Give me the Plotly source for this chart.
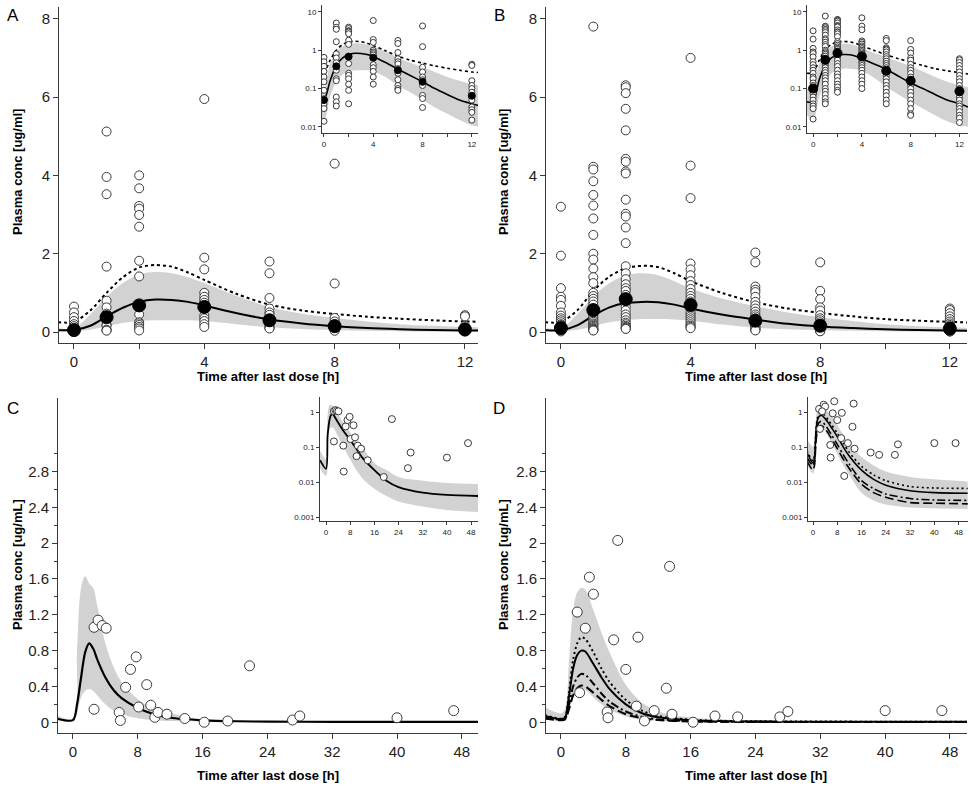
import plotly.graph_objects as go

W, H = 972, 787

# ---------------- panels A and B (0-12 h) ----------------
t_ab = [-0.5, 0, 0.5, 1, 1.5, 2, 2.5, 3, 3.5, 4, 5, 6, 7, 8, 9, 10, 11, 12, 12.7]

a_median = [0.05, 0.05, 0.16, 0.4, 0.62, 0.77, 0.83, 0.82, 0.77, 0.68, 0.48, 0.32, 0.22, 0.15, 0.1, 0.07, 0.05, 0.04, 0.035]
a_upper = [0.25, 0.26, 0.55, 1.0, 1.4, 1.65, 1.71, 1.67, 1.52, 1.33, 0.97, 0.7, 0.55, 0.46, 0.39, 0.34, 0.3, 0.27, 0.26]
a_pi_hi = [0.1, 0.1, 0.45, 0.9, 1.25, 1.47, 1.53, 1.5, 1.4, 1.25, 0.92, 0.64, 0.47, 0.36, 0.27, 0.2, 0.16, 0.13, 0.12]
a_pi_lo = [0.02, 0.015, 0.06, 0.15, 0.23, 0.28, 0.3, 0.3, 0.3, 0.28, 0.2, 0.12, 0.08, 0.05, 0.032, 0.022, 0.015, 0.011, 0.01]

b_median = [0.045, 0.045, 0.17, 0.42, 0.63, 0.74, 0.77, 0.76, 0.7, 0.6, 0.44, 0.32, 0.21, 0.14, 0.1, 0.07, 0.05, 0.04, 0.033]
b_upper = [0.25, 0.26, 0.55, 1.05, 1.42, 1.63, 1.69, 1.66, 1.5, 1.3, 0.99, 0.76, 0.6, 0.49, 0.4, 0.33, 0.29, 0.26, 0.24]
b_pi_hi = [0.1, 0.1, 0.45, 0.9, 1.25, 1.45, 1.5, 1.45, 1.3, 1.12, 0.85, 0.66, 0.5, 0.38, 0.28, 0.2, 0.15, 0.12, 0.11]
b_pi_lo = [0.02, 0.015, 0.06, 0.15, 0.25, 0.3, 0.33, 0.33, 0.32, 0.29, 0.19, 0.11, 0.07, 0.045, 0.03, 0.02, 0.014, 0.011, 0.01]

obs_times_ab = [0, 1, 2, 4, 6, 8, 12]

a_obs = [
    [0.65, 0.5, 0.38, 0.28, 0.2, 0.15, 0.09, 0.054, 0.04, 0.03, 0.014],
    [5.12, 3.96, 3.52, 1.67, 0.8, 0.63, 0.47, 0.3, 0.18, 0.16, 0.06, 0.045, 0.035],
    [4.0, 3.67, 3.22, 3.15, 2.99, 2.69, 1.82, 1.42, 0.45, 0.25, 0.22, 0.18, 0.13, 0.09, 0.04],
    [5.95, 1.9, 1.6, 1.0, 0.9, 0.82, 0.75, 0.42, 0.35, 0.28, 0.2, 0.13],
    [1.8, 1.5, 0.87, 0.6, 0.5, 0.44, 0.33, 0.25, 0.17, 0.12, 0.1, 0.09],
    [4.3, 1.24, 0.36, 0.27, 0.2, 0.17, 0.12, 0.066, 0.055, 0.032],
    [0.43, 0.4, 0.16, 0.12, 0.1, 0.08, 0.06, 0.05, 0.033, 0.028, 0.024, 0.015],
]
a_obs_median = [0.05, 0.38, 0.68, 0.64, 0.3, 0.15, 0.065]

b_obs = [
    [3.2, 1.95, 1.12, 0.9, 0.82, 0.67, 0.5, 0.42, 0.35, 0.3, 0.25, 0.2, 0.18, 0.14, 0.12,
     0.1, 0.08, 0.074, 0.06, 0.05, 0.04, 0.035, 0.03, 0.016],
    [7.8, 4.22, 4.15, 3.85, 3.5, 3.23, 2.9, 2.48, 2.0, 1.85, 1.62, 1.4, 1.25, 1.0, 0.92,
     0.85, 0.78, 0.7, 0.6, 0.55, 0.5, 0.45, 0.4, 0.35, 0.3, 0.26, 0.22, 0.19, 0.16, 0.13,
     0.1, 0.085, 0.07, 0.055, 0.045, 0.04],
    [6.3, 6.25, 6.1, 5.7, 5.15, 4.42, 4.35, 4.1, 4.05, 3.38, 3.02, 2.95, 2.67, 2.27, 1.68,
     1.5, 1.35, 1.22, 1.12, 1.05, 0.95, 0.88, 0.82, 0.75, 0.65, 0.55, 0.45, 0.38, 0.3,
     0.24, 0.2, 0.16, 0.13, 0.11, 0.09, 0.08],
    [7.0, 4.25, 3.42, 1.75, 1.6, 1.45, 1.3, 1.2, 1.1, 1.0, 0.92, 0.85, 0.78, 0.7, 0.65,
     0.58, 0.5, 0.45, 0.4, 0.35, 0.3, 0.25, 0.2, 0.16, 0.13, 0.1],
    [2.03, 1.78, 1.16, 1.08, 1.02, 0.9, 0.77, 0.68, 0.6, 0.52, 0.45, 0.4, 0.35, 0.3, 0.25,
     0.22, 0.18, 0.15, 0.12, 0.1, 0.08, 0.065, 0.05, 0.04],
    [1.78, 1.05, 0.84, 0.63, 0.55, 0.43, 0.35, 0.3, 0.25, 0.2, 0.17, 0.14, 0.12, 0.1, 0.08,
     0.065, 0.05, 0.04, 0.03, 0.022, 0.02],
    [0.6, 0.56, 0.48, 0.4, 0.33, 0.27, 0.22, 0.18, 0.15, 0.12, 0.1, 0.085, 0.07, 0.06, 0.05,
     0.04, 0.035, 0.03, 0.025, 0.02, 0.017, 0.013],
]
b_obs_median = [0.1, 0.56, 0.84, 0.69, 0.29, 0.16, 0.085]

# ---------------- panels C and D (0-48 h) ----------------
t_cd = [-2, 0, 0.5, 1, 1.5, 2, 2.5, 3, 4, 5, 6, 8, 10, 12, 16, 20, 24, 32, 40, 51]

c_median = [0.042, 0.024, 0.2, 0.5, 0.78, 0.88, 0.82, 0.7, 0.5, 0.36, 0.27, 0.16, 0.09, 0.05, 0.022, 0.011, 0.0072, 0.005, 0.0043, 0.004]
c_pi_hi = [0.08, 0.045, 0.8, 1.5, 1.63, 1.55, 1.5, 1.3, 0.88, 0.62, 0.45, 0.26, 0.15, 0.1, 0.035, 0.022, 0.014, 0.011, 0.0095, 0.0088]
c_pi_lo = [0.025, 0.015, 0.1, 0.28, 0.35, 0.37, 0.35, 0.3, 0.2, 0.13, 0.09, 0.045, 0.022, 0.013, 0.0065, 0.004, 0.0028, 0.002, 0.0016, 0.0014]

# the ~16 h samples are below the insets' 0.001 floor, so they only show in the linear panels
c_obs_t = [2.6, 3.1, 3.6, 4.1, 2.6, 5.7, 5.85, 6.5, 7.1, 7.8, 8.1, 9.1, 9.6, 10.1, 10.5, 11.6,
           13.8, 16.2, 19.1, 21.8, 27.1, 28.0, 40.0, 47.0]
c_obs_v = [1.06, 1.14, 1.08, 1.05, 0.145, 0.11, 0.02, 0.39, 0.59, 0.73, 0.17, 0.42, 0.19, 0.055,
           0.11, 0.09, 0.042, 0.0003, 0.014, 0.63, 0.025, 0.07, 0.05, 0.13]

d_median = [0.07, 0.035, 0.05, 0.3, 0.6, 0.75, 0.8, 0.79, 0.65, 0.5, 0.37, 0.2, 0.1, 0.055, 0.022, 0.012, 0.0082, 0.0057, 0.005, 0.0048]
d_high = [0.08, 0.04, 0.06, 0.35, 0.7, 0.88, 0.95, 0.93, 0.78, 0.6, 0.45, 0.25, 0.13, 0.07, 0.028, 0.016, 0.011, 0.0075, 0.0068, 0.0066]
d_mid = [0.05, 0.03, 0.04, 0.2, 0.4, 0.5, 0.54, 0.53, 0.43, 0.32, 0.23, 0.12, 0.06, 0.032, 0.011, 0.0065, 0.0046, 0.0034, 0.0031, 0.003]
d_low = [0.04, 0.022, 0.03, 0.15, 0.3, 0.38, 0.41, 0.4, 0.33, 0.25, 0.18, 0.09, 0.045, 0.024, 0.0087, 0.005, 0.0037, 0.0026, 0.0025, 0.0024]
d_pi_hi = [0.17, 0.1, 0.15, 0.7, 1.25, 1.45, 1.5, 1.48, 1.25, 1.0, 0.78, 0.42, 0.22, 0.12, 0.052, 0.03, 0.02, 0.014, 0.012, 0.0105]
d_pi_lo = [0.03, 0.018, 0.025, 0.15, 0.28, 0.35, 0.37, 0.36, 0.28, 0.2, 0.14, 0.065, 0.03, 0.016, 0.005, 0.003, 0.0023, 0.0019, 0.0018, 0.0017]

d_obs_t = [2.0, 3.5, 4.0, 3.0, 2.3, 7.0, 6.5, 9.5, 8.0, 5.7, 5.8, 9.3, 10.3, 11.5, 13.4, 13.0,
           13.7, 16.3, 19.0, 21.8, 27.0, 28.0, 40.0, 47.0]
d_obs_v = [1.23, 1.62, 1.43, 1.05, 0.33, 2.03, 0.92, 0.95, 0.59, 0.115, 0.05, 0.18, 0.015, 0.13,
           1.74, 0.38, 0.09, 0.0003, 0.07, 0.06, 0.06, 0.12, 0.13, 0.13]

FONT = "Liberation Sans, Arial, sans-serif"
GREY = "#d2d2d2"
INK = "#3a3a3a"

fig = go.Figure()


def ax(n):
    return ("x" if n == 1 else f"x{n}"), ("y" if n == 1 else f"y{n}")


def band(n, t, lo, hi):
    xa, ya = ax(n)
    fig.add_trace(go.Scatter(x=t, y=lo, xaxis=xa, yaxis=ya, mode="lines",
                             line=dict(width=0, shape="spline"), showlegend=False,
                             hoverinfo="skip"))
    fig.add_trace(go.Scatter(x=t, y=hi, xaxis=xa, yaxis=ya, mode="lines",
                             line=dict(width=0, shape="spline"), fill="tonexty",
                             fillcolor=GREY, showlegend=False, hoverinfo="skip"))


def curve(n, t, y, dash="solid", width=2):
    xa, ya = ax(n)
    fig.add_trace(go.Scatter(x=t, y=y, xaxis=xa, yaxis=ya, mode="lines",
                             line=dict(color="black", width=width, dash=dash,
                                       shape="spline", smoothing=0.8),
                             showlegend=False))


def points(n, t, y, size, filled=False):
    xa, ya = ax(n)
    if filled:
        mk = dict(size=size, color="black", line=dict(color="black", width=1))
    else:
        mk = dict(size=size, color="white", line=dict(color=INK, width=1))
    fig.add_trace(go.Scatter(x=t, y=y, xaxis=xa, yaxis=ya, mode="markers",
                             marker=mk, showlegend=False))


def flat(times, groups):
    xs, ys = [], []
    for t, g in zip(times, groups):
        xs += [t] * len(g)
        ys += g
    return xs, ys


# A and B: main (linear) + inset (log)
for n_main, n_in, med, up, lo, hi, obs, obs_med in [
        (1, 2, a_median, a_upper, a_pi_lo, a_pi_hi, a_obs, a_obs_median),
        (3, 4, b_median, b_upper, b_pi_lo, b_pi_hi, b_obs, b_obs_median)]:
    ox, oy = flat(obs_times_ab, obs)
    for n, lw, osz, fsz in [(n_main, 2, 9, 13), (n_in, 1.6, 6, 9 if n_in == 4 else 7)]:
        band(n, t_ab, lo, hi)
        curve(n, t_ab, up, dash="3px,3px", width=lw)
        curve(n, t_ab, med, width=lw)
        points(n, ox, oy, osz)
        points(n, obs_times_ab, obs_med, fsz, filled=True)

# C
for n, lw, osz in [(5, 2.2, 10), (6, 1.8, 7)]:
    band(n, t_cd, c_pi_lo, c_pi_hi)
    curve(n, t_cd, c_median, width=lw)
    points(n, c_obs_t, c_obs_v, osz)

# D
for n, lw, osz in [(7, 2, 10), (8, 1.6, 7)]:
    band(n, t_cd, d_pi_lo, d_pi_hi)
    curve(n, t_cd, d_high, dash="2px,3px", width=lw)
    curve(n, t_cd, d_median, width=lw)
    curve(n, t_cd, d_mid, dash="8px,3px,2px,3px", width=lw)
    curve(n, t_cd, d_low, dash="9px,4px", width=lw)
    points(n, d_obs_t, d_obs_v, osz)

# axes layout, pixel boxes: (x0, x1, y_bottom, y_top)
specs = {
    1: dict(box=(59, 478, 343, 7), xr=[-0.46, 12.4], yr=[-0.28, 8.3], log=False, kind="ab"),
    2: dict(box=(322, 478, 133, 5), xr=[-0.16, 12.5], yr=[-2.16, 1.18], log=True, kind="ab"),
    3: dict(box=(546, 967, 343, 7), xr=[-0.46, 12.53], yr=[-0.28, 8.3], log=False, kind="ab"),
    4: dict(box=(807, 968, 133, 5), xr=[-0.5, 12.7], yr=[-2.16, 1.18], log=True, kind="ab"),
    5: dict(box=(58, 478, 733, 398), xr=[-1.85, 50], yr=[-0.12, 3.62], log=False, kind="cd"),
    6: dict(box=(320, 478, 521, 397), xr=[-2, 50.3], yr=[-3.11, 0.43], log=True, kind="cd"),
    7: dict(box=(546, 967, 733, 398), xr=[-1.85, 50.1], yr=[-0.12, 3.62], log=False, kind="cd"),
    8: dict(box=(808, 968, 521, 397), xr=[-1.65, 51.1], yr=[-3.11, 0.43], log=True, kind="cd"),
}

layout = {}
for n, s in specs.items():
    x0, x1, yb, yt = s["box"]
    inset = s["log"]
    fsize = 8 if inset else 15
    tlen = 3 if inset else 5
    base = dict(showline=True, linecolor=INK, linewidth=1, ticks="outside",
                ticklen=tlen, tickwidth=1, tickcolor=INK, showgrid=False,
                zeroline=False, tickfont=dict(family=FONT, size=fsize, color="#222"))
    xkey = "xaxis" if n == 1 else f"xaxis{n}"
    ykey = "yaxis" if n == 1 else f"yaxis{n}"
    xa = dict(base, domain=[x0 / W, x1 / W], range=s["xr"], anchor=ax(n)[1])
    ya = dict(base, domain=[1 - yb / H, 1 - yt / H], range=s["yr"], anchor=ax(n)[0])
    if s["kind"] == "ab":
        xa.update(tickvals=[0, 4, 8, 12],
                  minor=dict(tickvals=[2, 6, 10], ticks="outside", ticklen=tlen,
                             tickcolor=INK))
    else:
        xa.update(tickvals=[0, 8, 16, 24, 32, 40, 48])
    if inset:
        ya.update(type="log")
        if s["kind"] == "ab":
            ya.update(tickvals=[0.01, 0.1, 1, 10], ticktext=["0.01", "0.1", "1", "10"])
        else:
            ya.update(tickvals=[0.001, 0.01, 0.1, 1], ticktext=["0.001", "0.01", "0.1", "1"])
    elif s["kind"] == "ab":
        ya.update(tickvals=[0, 2, 4, 6, 8])
    else:
        ya.update(tickvals=[0, 0.4, 0.8, 1.2, 1.6, 2, 2.4, 2.8],
                  ticktext=["0", "0.4", "0.8", "1.2", "1.6", "2", "2.4", "2.8"],
                  minor=dict(tickvals=[0.2, 0.6, 1.0, 1.4, 1.8, 2.2, 2.6, 3.0],
                             ticks="outside", ticklen=3, tickcolor=INK))
    layout[xkey] = xa
    layout[ykey] = ya

fig.update_layout(width=W, height=H, autosize=False,
                  margin=dict(l=0, r=0, t=0, b=0),
                  paper_bgcolor="white", plot_bgcolor="rgba(0,0,0,0)",
                  showlegend=False, **layout)


def label(text, x, y, size=13, bold=True, angle=0):
    fig.add_annotation(text=f"<b>{text}</b>" if bold else text, x=x / W, y=1 - y / H,
                       xref="paper", yref="paper", showarrow=False, textangle=angle,
                       xanchor="center", yanchor="middle",
                       font=dict(family=FONT, size=size, color="black"))


for letter, x, y in [("A", 13, 16), ("B", 499, 16), ("C", 13, 408), ("D", 499, 408)]:
    label(letter, x, y, size=17, bold=False)

label("Plasma conc [ug/ml]", 17, 172, angle=-90)
label("Plasma conc [ug/ml]", 503, 172, angle=-90)
label("Plasma conc [ug/mL]", 17, 565, angle=-90)
label("Plasma conc [ug/mL]", 503, 565, angle=-90)
label("Time after last dose [h]", 268, 377)
label("Time after last dose [h]", 756, 377)
label("Time after last dose [h]", 268, 775)
label("Time after last dose [h]", 756, 775)

# the page's default body margin would push the 972x787 figure off the window
fig.write_html("out.html", config={"displayModeBar": False},
               post_script="document.body.style.margin='0';"
                           "document.body.style.overflow='hidden';")
